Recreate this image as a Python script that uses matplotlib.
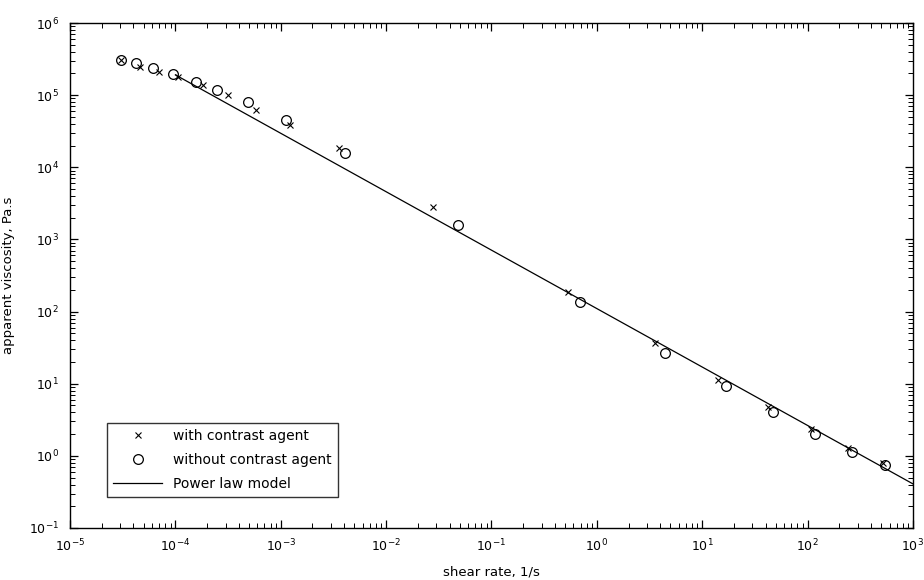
import numpy as np
import matplotlib
matplotlib.use("Agg")
import matplotlib.pyplot as plt
from matplotlib.ticker import FixedLocator, NullFormatter

plt.rcParams['font.family'] = ['DejaVu Sans']
plt.rcParams['mathtext.default'] = 'regular'
plt.rcParams['axes.unicode_minus'] = False

# with contrast agent (x markers)
shear_with = [3.03e-5, 4.61e-5, 6.98e-5, 1.06e-4, 1.82e-4, 3.16e-4, 5.82e-4, 1.22e-3,
              3.56e-3, 2.78e-2, 0.531, 3.55, 14.1, 41.9, 109, 240, 516]
visc_with = [3.07e5, 2.48e5, 2.11e5, 1.80e5, 1.38e5, 1.00e5, 6.22e4, 3.86e4,
             1.85e4, 2.79e3, 188, 36.3, 11.2, 4.80, 2.33, 1.27, 0.80]

# without contrast agent (open circles)
shear_without = [3.03e-5, 4.23e-5, 6.17e-5, 9.42e-5, 1.57e-4, 2.50e-4, 4.89e-4, 1.12e-3,
                 4.06e-3, 4.83e-2, 0.690, 4.42, 16.7, 47.1, 117, 264, 540]
visc_without = [3.07e5, 2.76e5, 2.35e5, 1.96e5, 1.54e5, 1.18e5, 8.11e4, 4.52e4,
                1.56e4, 1.58e3, 137, 26.9, 9.29, 4.09, 2.01, 1.14, 0.746]

# power law model eta = K * gamma^(n-1)
K = 110.0
n = 0.19
model_range = [1e-4, 1e3]

x_decades = list(range(-5, 4))
y_decades = list(range(-1, 7))

fig = plt.figure(figsize=(9.24, 5.8), dpi=100)
ax = fig.add_axes([0.0758, 0.0897, 0.9122, 0.8706])

ax.plot(shear_with, visc_with, linestyle='none', marker='x', color='black',
        markersize=5, markeredgewidth=0.8, label='with contrast agent')
ax.plot(shear_without, visc_without, linestyle='none', marker='o', color='black',
        markerfacecolor='none', markersize=7, markeredgewidth=0.9,
        label='without contrast agent')

gamma = np.logspace(np.log10(model_range[0]), np.log10(model_range[1]), 100)
ax.plot(gamma, K * gamma ** (n - 1), color='black', linewidth=0.9,
        label='Power law model')

ax.set_xscale('log')
ax.set_yscale('log')
ax.set_xlim(10.0 ** x_decades[0], 10.0 ** x_decades[-1])
ax.set_ylim(10.0 ** y_decades[0], 10.0 ** y_decades[-1])

# only ticks inside the view
ax.set_xticks([10.0 ** k for k in x_decades])
ax.set_xticklabels([f'$10^{{{k}}}$' for k in x_decades])
ax.set_yticks([10.0 ** k for k in y_decades])
ax.set_yticklabels([f'$10^{{{k}}}$' for k in y_decades])
x_minor = [m * 10.0 ** k for k in x_decades[:-1] for m in range(2, 10)]
y_minor = [m * 10.0 ** k for k in y_decades[:-1] for m in range(2, 10)]
ax.xaxis.set_minor_locator(FixedLocator(x_minor))
ax.yaxis.set_minor_locator(FixedLocator(y_minor))
ax.xaxis.set_minor_formatter(NullFormatter())
ax.yaxis.set_minor_formatter(NullFormatter())

ax.tick_params(which='both', direction='in', top=True, right=True, labelsize=9)
ax.tick_params(which='major', length=6, width=0.9)
ax.tick_params(which='minor', length=3.5, width=0.7)
ax.tick_params(axis='x', pad=7)
ax.tick_params(axis='y', pad=8)
for s in ax.spines.values():
    s.set_linewidth(1.0)

ax.set_xlabel('shear rate, 1/s', fontsize=9.5)
ax.set_ylabel('apparent viscosity, Pa.s', fontsize=9.5)
ax.xaxis.set_label_coords(0.5, -0.074)
ax.yaxis.set_label_coords(-0.065, 0.5)

leg = ax.legend(loc='lower left', bbox_to_anchor=(0.044, 0.061), borderaxespad=0,
                fontsize=10, frameon=True, fancybox=False, handlelength=3.5,
                labelspacing=0.72, borderpad=0.45, handletextpad=0.8)
leg.get_frame().set_edgecolor('black')
leg.get_frame().set_linewidth(1.0)

fig.savefig('out.png', dpi=100)
